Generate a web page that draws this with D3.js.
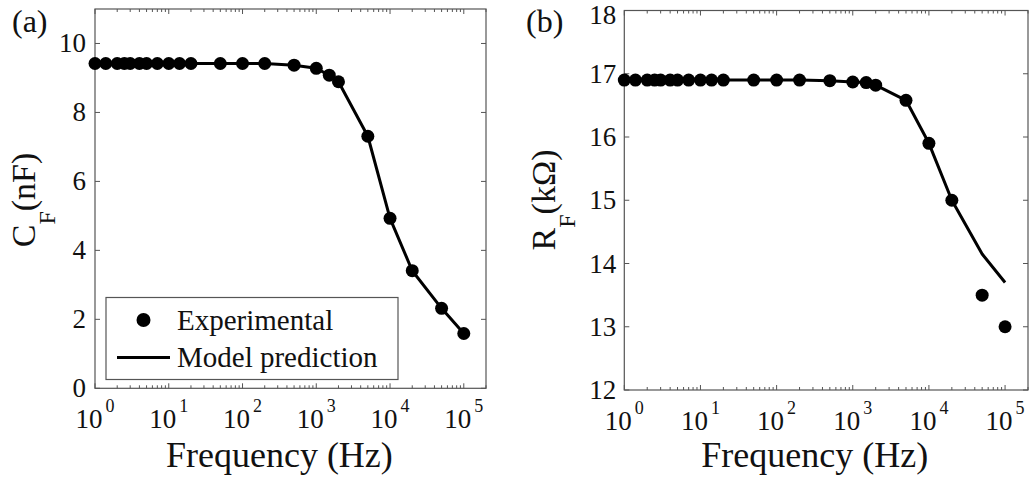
<!DOCTYPE html>
<html>
<head>
<meta charset="utf-8">
<script src="https://cdn.jsdelivr.net/npm/d3@7"></script>
<style>
  body { margin: 0; background: #fff; }
  text { font-family: "Liberation Serif", "Times New Roman", serif; fill: #111; }
</style>
</head>
<body>
<svg id="chart" width="1029" height="480"></svg>
<script>
// frequencies (Hz), shared by both panels
const freq = [1, 1.4, 2, 2.5, 3, 4, 5, 7, 10, 14, 20, 50, 100, 200, 500,
              1000, 1500, 2000, 5000, 10000, 20000, 50000, 100000];

// (a) capacitance C_F (nF)
const cfExp   = [9.42, 9.42, 9.42, 9.42, 9.42, 9.42, 9.42, 9.42, 9.42, 9.42, 9.42, 9.42, 9.42, 9.42, 9.37,
                 9.28, 9.08, 8.89, 7.31, 4.93, 3.41, 2.32, 1.59];
const cfModel = [9.42, 9.42, 9.42, 9.42, 9.42, 9.42, 9.42, 9.42, 9.42, 9.42, 9.42, 9.42, 9.42, 9.42, 9.37,
                 9.28, 9.08, 8.89, 7.31, 4.93, 3.41, 2.32, 1.59];

// (b) resistance R_F (kOhm)
const rfExp   = [16.9, 16.9, 16.9, 16.9, 16.9, 16.9, 16.9, 16.9, 16.9, 16.9, 16.9, 16.9, 16.9, 16.9, 16.89,
                 16.87, 16.86, 16.82, 16.58, 15.9, 15.0, 13.5, 13.0];
const rfModel = [16.9, 16.9, 16.9, 16.9, 16.9, 16.9, 16.9, 16.9, 16.9, 16.9, 16.9, 16.9, 16.9, 16.9, 16.89,
                 16.87, 16.86, 16.82, 16.58, 15.9, 15.0, 14.15, 13.7];

const cfTicks = [0, 2, 4, 6, 8, 10];
const rfTicks = [12, 13, 14, 15, 16, 17, 18];
const decades = [0, 1, 2, 3, 4, 5];

const svg = d3.select("#chart");

function panel(opt) {
    const x = d3.scaleLog().domain([1, 2e5]).range([opt.left, opt.right]);
    const y = d3.scaleLinear().domain(opt.yDomain).range([opt.bottom, opt.top]);
    const g = svg.append("g");

    // box
    g.append("rect")
        .attr("x", opt.left).attr("y", opt.top)
        .attr("width", opt.right - opt.left).attr("height", opt.bottom - opt.top)
        .attr("fill", "none").attr("stroke", "#555").attr("stroke-width", 1.2);

    // log ticks, drawn inward on bottom and top
    const minor = [];
    decades.forEach(d => {
        for (let k = 2; k <= 9; k++) {
            const v = k * Math.pow(10, d);
            if (v <= 2e5) minor.push(v);
        }
    });
    const ticks = g.append("g").attr("stroke", "#555").attr("stroke-width", 1);
    decades.forEach(d => {
        const px = x(Math.pow(10, d));
        ticks.append("line").attr("x1", px).attr("x2", px).attr("y1", opt.bottom).attr("y2", opt.bottom - 5);
        ticks.append("line").attr("x1", px).attr("x2", px).attr("y1", opt.top).attr("y2", opt.top + 5);
    });
    minor.forEach(v => {
        const px = x(v);
        ticks.append("line").attr("x1", px).attr("x2", px).attr("y1", opt.bottom).attr("y2", opt.bottom - 3);
        ticks.append("line").attr("x1", px).attr("x2", px).attr("y1", opt.top).attr("y2", opt.top + 3);
    });
    opt.yTicks.forEach(v => {
        const py = y(v);
        ticks.append("line").attr("x1", opt.left).attr("x2", opt.left + 5).attr("y1", py).attr("y2", py);
        ticks.append("line").attr("x1", opt.right).attr("x2", opt.right - 5).attr("y1", py).attr("y2", py);
    });

    // x tick labels 10^k
    decades.forEach(d => {
        const t = g.append("text")
            .attr("x", x(Math.pow(10, d))).attr("y", opt.bottom + 40)
            .attr("text-anchor", "middle")
            .attr("font-size", 27);
        t.append("tspan").text("10");
        t.append("tspan").attr("dy", -16).attr("dx", 3).attr("font-size", 18).text(d);
    });

    // y tick labels (top one kept inside the picture)
    g.selectAll(".ytl")
        .data(opt.yTicks)
        .enter()
        .append("text")
        .attr("x", opt.left - opt.yLabelGap)
        .attr("y", d => Math.max(y(d) + 9, 24))
        .attr("text-anchor", "end")
        .attr("font-size", 27)
        .text(d => d);

    // x label
    g.append("text")
        .attr("x", x(Math.pow(10, 2.5))).attr("y", 467)
        .attr("text-anchor", "middle")
        .attr("font-size", 36)
        .text("Frequency (Hz)");

    // y label, rotated with subscript
    const yl = g.append("text")
        .attr("transform", `translate(${opt.yTitleX},200) rotate(-90)`)
        .attr("text-anchor", "middle")
        .attr("font-size", 34);
    yl.append("tspan").text(opt.yTitle[0]);
    yl.append("tspan").attr("dy", 20).attr("font-size", 24).text("F");
    yl.append("tspan").attr("dy", -20).text(opt.yTitle[1]);

    // panel letter
    g.append("text")
        .attr("x", opt.letterX).attr("y", 32)
        .attr("font-size", 32)
        .text(opt.letter);

    // model line
    const line = d3.line().x((d, i) => x(freq[i])).y(d => y(d));
    g.append("path")
        .datum(opt.model)
        .attr("d", line)
        .attr("fill", "none")
        .attr("stroke", "#000")
        .attr("stroke-width", 3)
        .attr("stroke-linejoin", "round");

    // experimental points
    g.selectAll(".pt")
        .data(opt.exp)
        .enter()
        .append("circle")
        .attr("cx", (d, i) => x(freq[i]))
        .attr("cy", d => y(d))
        .attr("r", 6.5)
        .attr("fill", "#000");

    return { x, y, g };
}

const a = panel({
    left: 95, right: 486, top: 9, bottom: 388.3,
    yDomain: [0, 11], yTicks: cfTicks, yLabelGap: 9,
    exp: cfExp, model: cfModel,
    yTitle: ["C", "(nF)"], yTitleX: 35,
    letter: "(a)", letterX: 12
});

panel({
    left: 624.3, right: 1028, top: 10.5, bottom: 390,
    yDomain: [12, 18], yTicks: rfTicks, yLabelGap: 8,
    exp: rfExp, model: rfModel,
    yTitle: ["R", "(k\u03A9)"], yTitleX: 555,
    letter: "(b)", letterX: 526
});

// legend in panel (a)
const leg = a.g.append("g");
leg.append("rect")
    .attr("x", 106).attr("y", 297.5)
    .attr("width", 292).attr("height", 82)
    .attr("fill", "#fff").attr("stroke", "#555").attr("stroke-width", 1.2);
leg.append("circle").attr("cx", 143.5).attr("cy", 320).attr("r", 7).attr("fill", "#000");
leg.append("text").attr("x", 177).attr("y", 330).attr("font-size", 29).text("Experimental");
leg.append("line")
    .attr("x1", 117).attr("x2", 170).attr("y1", 357.5).attr("y2", 357.5)
    .attr("stroke", "#000").attr("stroke-width", 3);
leg.append("text").attr("x", 177).attr("y", 367).attr("font-size", 29).text("Model prediction");
</script>
</body>
</html>
